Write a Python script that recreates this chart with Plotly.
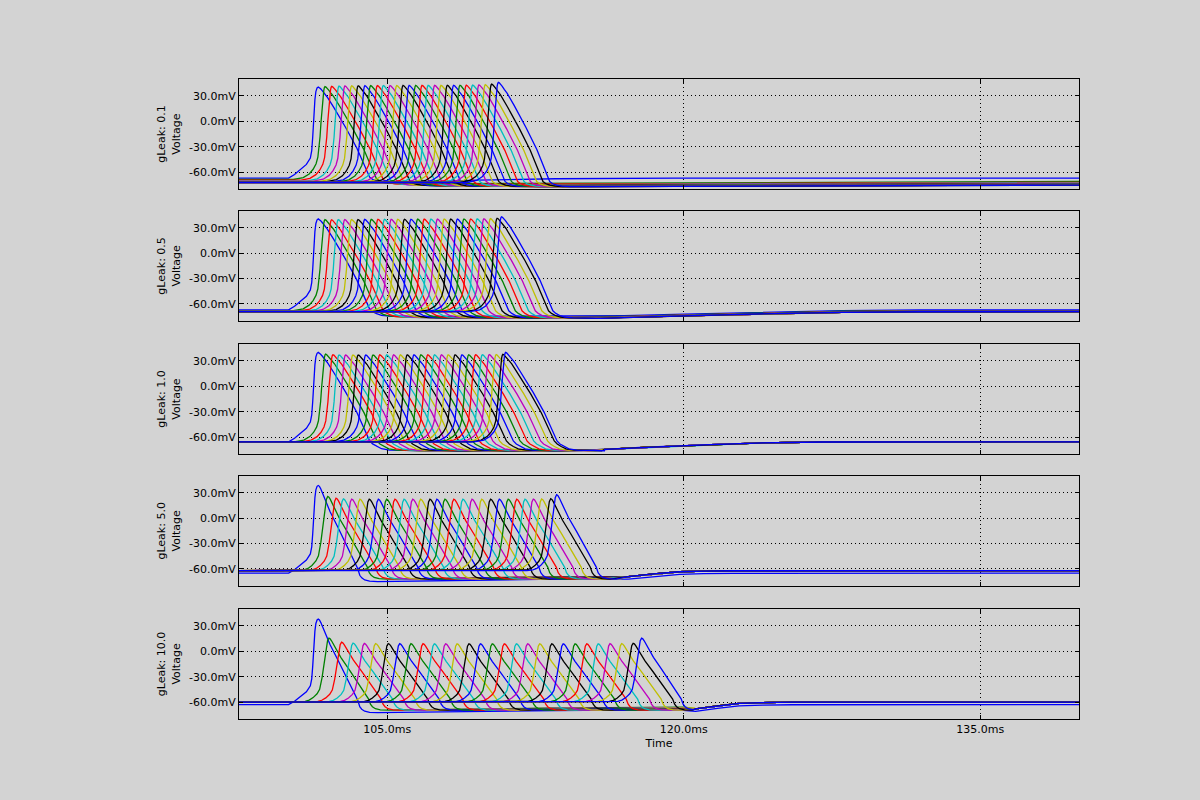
import plotly.graph_objects as go

# ---------------- data ----------------
TIME_RANGE = [97.5, 140.0]
VOLT_RANGE = [-80, 50]
X_TICKS = [105, 120, 135]
X_TICK_LABELS = ["105.0ms", "120.0ms", "135.0ms"]
Y_TICKS = [-60, -30, 0, 30]
Y_TICK_LABELS = ["-60.0mV", "-30.0mV", "0.0mV", "30.0mV"]
PANEL_LABELS = ["gLeak: 0.1", "gLeak: 0.5", "gLeak: 1.0", "gLeak: 5.0", "gLeak: 10.0"]
X_TITLE = "Time"
Y_TITLE = "Voltage"
COLORS = ["#0000ff", "#008000", "#ff0000", "#00bfbf", "#bf00bf", "#bfbf00", "#000000"]

# spike peak times (ms) of the 29 compartments in each panel
P1_PEAK_T = [101.51, 101.85, 102.19, 102.56, 102.86, 103.20, 103.53, 103.87, 104.16, 104.50,
             104.80, 105.14, 105.48, 105.80, 106.11, 106.44, 106.76, 107.07, 107.40, 107.72,
             108.04, 108.36, 108.68, 109.00, 109.32, 109.64, 109.96, 110.28, 110.62]
P2_PEAK_T = [101.51, 101.85, 102.18, 102.52, 102.85, 103.19, 103.52, 103.86, 104.19, 104.53,
             104.86, 105.20, 105.53, 105.87, 106.20, 106.54, 106.87, 107.21, 107.54, 107.88,
             108.21, 108.55, 108.88, 109.22, 109.55, 109.89, 110.22, 110.56, 110.78]
P3_PEAK_T = [101.51, 101.88, 102.25, 102.56, 102.89, 103.26, 103.53, 103.91, 104.28, 104.62,
             104.97, 105.32, 105.66, 106.01, 106.35, 106.70, 107.05, 107.39, 107.74, 108.08,
             108.43, 108.78, 109.12, 109.47, 109.81, 110.16, 110.51, 110.85, 110.99]
P4_PEAK_T = [101.51, 101.99, 102.41, 102.78, 103.20, 103.62, 104.09, 104.55, 104.97, 105.39,
             105.85, 106.29, 106.69, 107.16, 107.51, 107.92, 108.37, 108.83, 109.29, 109.78,
             110.23, 110.67, 111.12, 111.55, 111.97, 112.39, 112.81, 113.27, 113.57]
P5_PEAK_T = [101.51, 102.05, 102.69, 103.27, 103.84, 104.41, 105.05, 105.63, 106.20, 106.81,
             107.38, 107.95, 108.53, 109.13, 109.71, 110.31, 110.92, 111.53, 112.10, 112.71,
             113.32, 113.90, 114.50, 115.09, 115.67, 116.27, 116.86, 117.44, 117.87]

# spike peak voltages (mV)
P1_PEAK_V = [40.6, 41.0, 41.3, 41.6, 41.8, 42.0, 42.0, 42.1, 42.2, 42.2, 42.3, 42.3, 42.3, 42.4, 42.4,
             42.4, 42.5, 42.5, 42.5, 42.5, 42.6, 42.6, 42.6, 42.7, 42.8, 43.0, 43.3, 44.0, 46.0]
P2_PEAK_V = [40.5, 39.6, 39.5, 39.6, 39.7, 39.8, 39.8, 39.9, 39.9, 40.0, 40.0, 40.0, 40.1, 40.1, 40.1,
             40.2, 40.2, 40.2, 40.2, 40.3, 40.3, 40.3, 40.4, 40.4, 40.5, 40.6, 40.8, 41.3, 43.0]
P3_PEAK_V = [40.0, 38.0, 37.3, 37.0, 37.0, 37.0, 37.0, 37.0, 37.0, 37.1, 37.1, 37.1, 37.1, 37.1, 37.1,
             37.1, 37.2, 37.2, 37.2, 37.2, 37.2, 37.2, 37.2, 37.3, 37.3, 37.4, 37.5, 37.8, 40.0]
P4_PEAK_V = [38.6, 25.6, 23.5, 22.8, 22.5, 22.4, 22.4, 22.3, 22.4, 22.4, 22.3, 22.4, 22.4, 22.4, 22.3,
             22.4, 22.4, 22.4, 22.3, 22.4, 22.4, 22.4, 22.4, 22.3, 22.4, 22.5, 22.6, 22.9, 27.6]
P5_PEAK_V = [37.9, 15.4, 10.7, 9.6, 9.2, 9.0, 9.0, 8.9, 8.9, 8.9, 8.8, 8.8, 8.8, 8.8, 8.8,
             8.8, 8.8, 8.8, 8.8, 8.8, 8.8, 8.8, 8.8, 8.8, 8.8, 8.9, 9.0, 9.4, 15.4]

# resting potentials (mV) of each compartment
P1_REST = [-67.0, -68.7, -69.6, -70.2, -70.6, -70.9, -71.1, -71.3, -71.4, -71.5, -71.6, -71.7, -71.8, -71.8,
           -71.9, -71.9, -72.0, -72.0, -72.0, -72.1, -72.1, -72.1, -72.1, -72.2, -72.2, -72.2, -72.2, -72.2, -72.2]
P2_REST = [-67.0, -67.8, -68.2, -68.5, -68.6, -68.7, -68.8, -68.8, -68.9, -68.9, -68.9, -69.0, -69.0, -69.0,
           -69.0, -69.0, -69.1, -69.1, -69.1, -69.1, -69.1, -69.1, -69.1, -69.1, -69.1, -69.1, -69.1, -69.1, -69.1]
P3_REST = [-65.5] + [-65.6] * 28
P4_REST = [-65.0] + [-62.0] * 28
P5_REST = [-63.0] + [-60.0] * 28

# spike shape: time from peak (ms) and fraction of amplitude
SHARP_RISE_DT = [-1.6, -1.1, -0.8, -0.6, -0.45, -0.36, -0.3, -0.25, -0.2, -0.15, -0.1, -0.06, -0.03, 0.0]
SHARP_RISE_F = [0.0, 0.02, 0.06, 0.11, 0.17, 0.24, 0.33, 0.46, 0.62, 0.78, 0.9, 0.96, 0.99, 1.0]
SHARP_FALL_DT = [0.05, 0.12, 0.2, 0.3, 0.45, 0.8, 1.4, 1.95, 2.2, 2.38, 2.5, 2.6]
SHARP_FALL_F = [0.995, 0.98, 0.96, 0.93, 0.89, 0.77, 0.55, 0.33, 0.21, 0.11, 0.05, 0.01]
ROUND_RISE_DT = [-1.5, -1.2, -1.0, -0.8, -0.6, -0.47, -0.35, -0.25, -0.14, -0.07, 0.0]
ROUND_RISE_F = [0.0, 0.01, 0.03, 0.07, 0.13, 0.2, 0.38, 0.6, 0.85, 0.96, 1.0]
ROUND_FALL_DT = [0.06, 0.13, 0.22, 0.37, 0.6, 1.0, 1.5, 1.8, 2.0]
ROUND_FALL_F = [0.99, 0.96, 0.91, 0.81, 0.7, 0.52, 0.29, 0.14, 0.05]
FIRST_RISE_DT = [-1.5, -1.2, -0.9, -0.6, -0.4, -0.33, -0.28, -0.23, -0.17, -0.12, -0.06, 0.0]
FIRST_RISE_F = [0.0, 0.04, 0.09, 0.15, 0.22, 0.3, 0.45, 0.66, 0.86, 0.95, 0.99, 1.0]

# after-spike undershoot: time from peak (ms), mV relative to rest
P1_TAIL_DT = [2.75, 2.95, 3.2, 3.6, 5, 10, 20, 30, 40]
P1_TAIL_OFF = [-1.5, -3.2, -4.3, -4.8, -5.0, -4.6, -3.6, -2.8, -2.2]
P1_FIRST_TAIL_DT = [2.75, 2.95, 3.4, 5, 8, 12, 18]
P1_FIRST_TAIL_OFF = [-1.5, -3.5, -5.5, -5.0, -2.5, -0.8, 0.0]
P2_TAIL_DT = [2.75, 2.95, 3.2, 3.6, 5, 10, 15]
P2_TAIL_OFF = [-2.0, -4.5, -6.3, -7.2, -7.8, -7.5, -6.5]
P3_TAIL_DT = [2.75, 2.95, 3.2, 3.6, 5, 10, 15]
P3_TAIL_OFF = [-2.5, -5.5, -8.2, -9.8, -10.5, -10.0, -9.0]
P4_TAIL_DT = [2.1, 2.2, 2.35, 2.6, 3.0, 4, 7, 12, 18]
P4_TAIL_OFF = [-2.5, -5.5, -8.0, -9.5, -10.0, -9.6, -8.5, -7.0, -6.0]
P5_TAIL_DT = [2.1, 2.2, 2.35, 2.6, 3.0, 4, 7, 12, 18]
P5_TAIL_OFF = [-2.5, -5.5, -7.8, -9.2, -9.5, -9.2, -8.0, -7.0, -6.0]

# common recovery once the wave has passed: absolute time (ms), mV relative to rest
P1_FINAL_T = []
P1_FINAL_OFF = []
P2_FINAL_T = [117, 120, 124, 128, 132, 141]
P2_FINAL_OFF = [-6.8, -5.0, -2.6, -0.8, -0.1, 0.0]
P3_FINAL_T = [116, 118, 121, 124, 127, 141]
P3_FINAL_OFF = [-9.0, -6.5, -3.5, -1.2, -0.2, 0.0]
P4_FINAL_T = [117.2, 118.5, 119.8, 121, 122.5, 141]
P4_FINAL_OFF = [-7.0, -3.8, -1.3, -0.5, -0.15, 0.0]
P5_FINAL_T = [120.6, 121.7, 122.8, 124, 125.5, 141]
P5_FINAL_OFF = [-8.0, -4.5, -1.6, -0.6, -0.15, 0.0]

# ---------------- build figure ----------------
panels = [
    (P1_PEAK_T, P1_PEAK_V, P1_REST, SHARP_RISE_DT, SHARP_RISE_F, SHARP_FALL_DT, SHARP_FALL_F,
     P1_TAIL_DT, P1_TAIL_OFF, P1_FIRST_TAIL_DT, P1_FIRST_TAIL_OFF, P1_FINAL_T, P1_FINAL_OFF),
    (P2_PEAK_T, P2_PEAK_V, P2_REST, SHARP_RISE_DT, SHARP_RISE_F, SHARP_FALL_DT, SHARP_FALL_F,
     P2_TAIL_DT, P2_TAIL_OFF, P2_TAIL_DT, P2_TAIL_OFF, P2_FINAL_T, P2_FINAL_OFF),
    (P3_PEAK_T, P3_PEAK_V, P3_REST, SHARP_RISE_DT, SHARP_RISE_F, SHARP_FALL_DT, SHARP_FALL_F,
     P3_TAIL_DT, P3_TAIL_OFF, P3_TAIL_DT, P3_TAIL_OFF, P3_FINAL_T, P3_FINAL_OFF),
    (P4_PEAK_T, P4_PEAK_V, P4_REST, ROUND_RISE_DT, ROUND_RISE_F, ROUND_FALL_DT, ROUND_FALL_F,
     P4_TAIL_DT, P4_TAIL_OFF, P4_TAIL_DT, P4_TAIL_OFF, P4_FINAL_T, P4_FINAL_OFF),
    (P5_PEAK_T, P5_PEAK_V, P5_REST, ROUND_RISE_DT, ROUND_RISE_F, ROUND_FALL_DT, ROUND_FALL_F,
     P5_TAIL_DT, P5_TAIL_OFF, P5_TAIL_DT, P5_TAIL_OFF, P5_FINAL_T, P5_FINAL_OFF),
]

fig = go.Figure()

for p, (pt, pv, prest, rdt, rf, fdt, ff, tdt, toff, ftdt, ftoff, fint, finoff) in enumerate(panels):
    axn = "" if p == 0 else str(p + 1)
    for i in range(len(pt)):
        rest = prest[i]
        amp = pv[i] - rest
        tp = pt[i]
        rise_dt, rise_f = (FIRST_RISE_DT, FIRST_RISE_F) if i == 0 else (rdt, rf)
        xs = [TIME_RANGE[0]]
        ys = [rest]
        for dt, f in zip(rise_dt, rise_f):
            xs.append(tp + dt)
            ys.append(rest + f * amp)
        for dt, f in zip(fdt, ff):
            xs.append(tp + dt)
            ys.append(rest + f * amp)
        tail_dt, tail_off = (ftdt, ftoff) if i == 0 else (tdt, toff)
        cutoff = fint[0] if fint else 1e9
        for dt, o in zip(tail_dt, tail_off):
            if tp + dt < cutoff:
                xs.append(tp + dt)
                ys.append(rest + o)
        for t, o in zip(fint, finoff):
            if t > xs[-1]:
                xs.append(t)
                ys.append(rest + o)
        if xs[-1] < TIME_RANGE[1]:
            xs.append(TIME_RANGE[1] + 1)
            ys.append(ys[-1])
        fig.add_trace(go.Scatter(
            x=xs, y=ys, mode="lines",
            line=dict(color=COLORS[i % len(COLORS)], width=1.3),
            xaxis="x" + axn, yaxis="y" + axn, showlegend=False, hoverinfo="skip",
        ))

# panel placement (paper fractions of the 640 px plot height)
domains = [[0.828, 1.0], [0.622, 0.794], [0.414, 0.586], [0.208, 0.380], [0.0, 0.172]]

layout = dict(
    width=1200, height=800,
    paper_bgcolor="#d3d3d3", plot_bgcolor="#d3d3d3",
    margin=dict(l=239, r=121, t=79, b=81),
    font=dict(family="DejaVu Sans", size=11, color="black"),
    showlegend=False,
)

for p in range(5):
    axn = "" if p == 0 else str(p + 1)
    last = p == 4
    layout["xaxis" + axn] = dict(
        domain=[0, 1], anchor="y" + axn, range=TIME_RANGE,
        tickvals=X_TICKS, ticktext=X_TICK_LABELS, showticklabels=last,
        ticks="inside", ticklen=4, tickcolor="black", tickwidth=1,
        showline=True, linecolor="black", linewidth=1, mirror="ticks",
        showgrid=True, gridcolor="black", gridwidth=0.8, griddash="1px,3px",
        zeroline=False,
        title=dict(text=X_TITLE if last else "", standoff=4, font=dict(size=11)),
    )
    layout["yaxis" + axn] = dict(
        domain=domains[p], anchor="x" + axn, range=VOLT_RANGE,
        tickvals=Y_TICKS, ticktext=Y_TICK_LABELS,
        ticks="inside", ticklen=4, tickcolor="black", tickwidth=1,
        showline=True, linecolor="black", linewidth=1, mirror="ticks",
        showgrid=True, gridcolor="black", gridwidth=0.8, griddash="1px,3px",
        zeroline=False,
        title=dict(text=PANEL_LABELS[p] + "<br>" + Y_TITLE, standoff=6, font=dict(size=11)),
    )

fig.update_layout(**layout)
fig.write_html("out.html")
